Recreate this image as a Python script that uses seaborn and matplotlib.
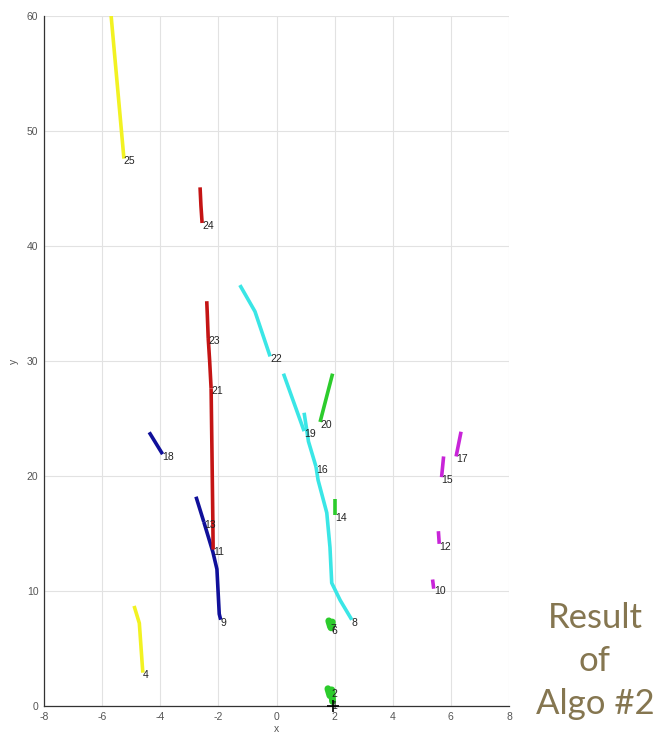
import matplotlib
matplotlib.use("Agg")
import matplotlib.pyplot as plt
import seaborn as sns
import pandas as pd

# ---- data: tracks (id, colour group, x points, y points) ----
track_ids = [25, 24, 23, 21, 11, 13, 9, 18, 4, 22, 19, 16, 8, 20, 14, 7, 6, 2, 1, 17, 15, 12, 10]
track_groups = ["yellow", "red", "red", "red", "red", "blue", "blue", "blue", "yellow",
                "cyan", "cyan", "cyan", "cyan", "green", "green", "green", "green",
                "green", "green", "magenta", "magenta", "magenta", "magenta"]
track_x = [
    [-5.69, -5.25],
    [-2.63, -2.60, -2.56],
    [-2.40, -2.38, -2.35],
    [-2.35, -2.30, -2.25],
    [-2.25, -2.22, -2.19, -2.18],
    [-2.77, -2.50],
    [-2.50, -2.19, -2.05, -1.97, -1.92],
    [-4.38, -3.92],
    [-4.90, -4.72, -4.60],
    [-1.26, -0.74, -0.22],
    [0.24, 0.95],
    [0.95, 1.10, 1.36],
    [1.36, 1.43, 1.73, 1.84, 1.90, 2.19, 2.59],
    [1.93, 1.50],
    [2.03, 2.03],
    [1.80, 1.86],
    [1.92, 1.88],
    [1.77, 1.84],
    [1.90, 1.93],
    [6.35, 6.18],
    [5.75, 5.68],
    [5.57, 5.60],
    [5.37, 5.41],
]
track_y = [
    [60.0, 47.6],
    [45.1, 43.5, 42.0],
    [35.2, 34.0, 32.0],
    [32.0, 30.0, 27.6],
    [27.6, 22.0, 16.0, 13.6],
    [18.2, 16.0],
    [16.0, 13.4, 11.9, 8.0, 7.5],
    [23.8, 21.9],
    [8.7, 7.2, 2.9],
    [36.6, 34.3, 30.4],
    [28.9, 23.9],
    [25.5, 23.0, 20.8],
    [20.8, 19.65, 16.8, 13.8, 10.7, 9.2, 7.5],
    [28.9, 24.7],
    [18.0, 16.6],
    [7.4, 6.9],
    [7.3, 6.8],
    [1.5, 0.9],
    [1.4, 0.4],
    [23.85, 21.7],
    [21.7, 19.9],
    [15.2, 14.1],
    [11.0, 10.2],
]
origin_marker = (1.94, 0.0)

group_colors = {
    "yellow": "#f2f222",
    "red": "#c41414",
    "blue": "#10109a",
    "cyan": "#3ae6e6",
    "green": "#2ccc2c",
    "magenta": "#c824d8",
}

rows = []
for tid, grp, xs, ys in zip(track_ids, track_groups, track_x, track_y):
    for i, (xv, yv) in enumerate(zip(xs, ys)):
        rows.append({"track": tid, "group": grp, "order": i, "x": xv, "y": yv})
df = pd.DataFrame(rows)

sns.set_theme(style="white")
plt.rcParams["font.family"] = ["Liberation Sans", "DejaVu Sans"]
plt.rcParams["axes.unicode_minus"] = False

fig = plt.figure(figsize=(6.64, 7.37), dpi=100)
ax = fig.add_axes([44 / 664, 31 / 737, 465 / 664, 690 / 737])

palette = {tid: group_colors[g] for tid, g in zip(track_ids, track_groups)}
sns.lineplot(data=df, x="x", y="y", hue="track", units="track", estimator=None,
             sort=False, palette=palette, linewidth=2.6, legend=False, ax=ax,
             solid_capstyle="butt", zorder=3)

# short green blobs drawn thicker
for tid, grp, xs, ys in zip(track_ids, track_groups, track_x, track_y):
    if tid in (7, 6, 2, 1):
        ax.plot(xs, ys, color=group_colors[grp], linewidth=5, zorder=3)

label_offsets = {1: (-1, -3), 2: (1, 1)}
for tid, xs, ys in zip(track_ids, track_x, track_y):
    off = label_offsets.get(tid, (0, -2))
    ax.annotate(str(tid), (xs[-1], ys[-1]), xytext=off, textcoords="offset points",
                ha="left", va="center", fontsize=7.5, color="#222222", zorder=5)

ax.plot([origin_marker[0]], [origin_marker[1]], marker="+", color="black",
        markersize=8, markeredgewidth=1.2, clip_on=False, zorder=6)

ax.set_xlim(-8, 8)
ax.set_ylim(0, 60)
ax.set_xticks(range(-8, 9, 2))
ax.set_yticks(range(0, 61, 10))
ax.grid(True, color="#e2e2e2", linewidth=0.8)
ax.set_axisbelow(True)
for s in ["top", "right"]:
    ax.spines[s].set_visible(False)
for s in ["left", "bottom"]:
    ax.spines[s].set_color("#333333")
    ax.spines[s].set_linewidth(0.9)
ax.tick_params(direction="in", length=5, width=0.9, colors="#333333",
               labelsize=7.5, labelcolor="#555555", pad=4)
ax.set_xlabel("x", fontsize=7.5, color="#555555", labelpad=2)
ax.set_ylabel("y", fontsize=7.5, color="#555555", labelpad=6)

fig.text(595 / 664, 1 - 661 / 737, "Result\nof\nAlgo #2", ha="center", va="center",
         fontsize=25, color="#857650", family=["Lato", "DejaVu Sans"], linespacing=1.42)

fig.savefig("out.png", dpi=100)
